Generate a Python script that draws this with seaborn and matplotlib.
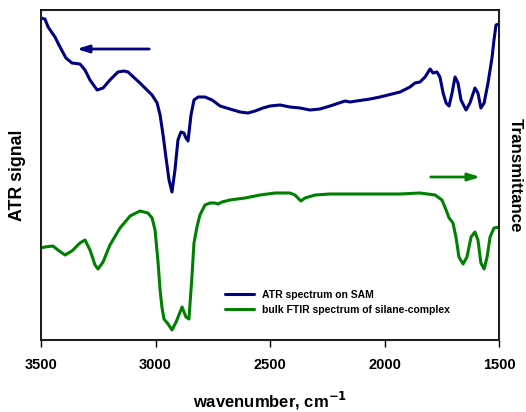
import matplotlib
matplotlib.use("Agg")
import matplotlib.pyplot as plt
import seaborn as sns
import pandas as pd

sns.set_style("white")
plt.rcParams['font.family'] = ['Liberation Sans', 'DejaVu Sans']
plt.rcParams['text.color'] = 'black'
plt.rcParams['axes.labelcolor'] = 'black'
plt.rcParams['xtick.color'] = 'black'
plt.rcParams['ytick.color'] = 'black'
plt.rcParams['lines.solid_joinstyle'] = 'round'
plt.rcParams['lines.solid_capstyle'] = 'round'

atr_wn = [3500, 3483, 3469, 3439, 3417, 3391, 3365, 3330, 3308, 3286, 3255, 3229, 3199, 3164, 3138, 3120,
          3068, 3015, 2993, 2980, 2967, 2954, 2941, 2928, 2915, 2902, 2889, 2876, 2867, 2858, 2845, 2832,
          2814, 2784, 2753, 2718, 2675, 2631, 2596, 2565, 2531, 2500, 2456, 2413, 2369, 2325, 2282, 2238,
          2172, 2151, 2063, 2020, 1932, 1889, 1867, 1845, 1823, 1801, 1788, 1771, 1758, 1744, 1731, 1718,
          1705, 1692, 1679, 1666, 1644, 1627, 1605, 1592, 1579, 1565, 1548, 1530, 1522, 1513, 1500]
atr_val = [322, 321, 313, 303, 293, 282, 277, 276, 270, 260, 250, 252, 260, 268, 269, 268,
           257, 245, 237, 225, 205, 182, 160, 148, 170, 200, 208, 207, 202, 199, 225, 240,
           243, 243, 240, 234, 231, 228, 227, 229, 232, 234, 235, 233, 232, 230, 231, 234,
           239, 238, 241, 243, 248, 253, 257, 258, 263, 271, 267, 268, 263, 247, 237, 234,
           247, 263, 257, 240, 230, 237, 252, 247, 232, 237, 257, 283, 300, 315, 316]

ftir_wn = [3500, 3483, 3448, 3426, 3395, 3365, 3330, 3308, 3286, 3264, 3251, 3229, 3199, 3155, 3111, 3068,
           3033, 3015, 3002, 2989, 2980, 2972, 2963, 2945, 2928, 2910, 2884, 2867, 2854, 2841, 2832, 2819,
           2806, 2784, 2762, 2740, 2727, 2710, 2675, 2609, 2544, 2478, 2413, 2391, 2365, 2347, 2303, 2238,
           2107, 1932, 1845, 1779, 1749, 1731, 1718, 1701, 1688, 1675, 1657, 1640, 1622, 1605, 1592, 1579,
           1565, 1552, 1539, 1522, 1500]
ftir_val = [92, 93, 94, 90, 85, 89, 97, 100, 90, 75, 71, 78, 95, 112, 124, 129,
            127, 122, 110, 78, 50, 33, 21, 16, 10, 18, 33, 23, 21, 63, 97, 113,
            125, 135, 137, 137, 136, 138, 140, 142, 145, 147, 147, 145, 139, 142, 145, 146,
            146, 146, 147, 145, 140, 130, 122, 117, 103, 83, 76, 83, 103, 108, 100, 77,
            71, 83, 103, 112, 113]

labels = ["ATR spectrum on SAM", "bulk FTIR spectrum of silane-complex"]
colors = ["#000080", "#008000"]
xticks = [3500, 3000, 2500, 2000, 1500]

df = pd.concat([
    pd.DataFrame({"wn": atr_wn, "val": atr_val, "series": labels[0]}),
    pd.DataFrame({"wn": ftir_wn, "val": ftir_val, "series": labels[1]}),
])

fig = plt.figure(figsize=(5.26, 4.12), dpi=100)
ax = fig.add_axes([41/526, 1 - 340/412, 458/526, 330/412])
sns.lineplot(data=df, x="wn", y="val", hue="series", palette=colors, estimator=None,
             sort=True, linewidth=2.2, ax=ax)

ax.set_xlim(3500, 1500)
ax.set_ylim(0, 330)
ax.set_xticks(xticks)
ax.set_xticklabels([str(t) for t in xticks], fontweight="bold", fontsize=10.5)
ax.set_yticks([])
ax.tick_params(axis="x", direction="out", length=5, width=1, bottom=True, pad=8, color="black")
for s in ax.spines.values():
    s.set_color("black")
    s.set_linewidth(1.3)

ax.set_xlabel("wavenumber, cm$^{\\mathbf{-1}}$", fontweight="bold", fontsize=12, labelpad=13)
ax.set_ylabel("ATR signal", fontweight="bold", fontsize=12.8, labelpad=11)
ax2 = ax.twinx()
ax2.set_yticks([])
ax2.set_ylabel("Transmittance", fontweight="bold", fontsize=12.2, rotation=270, labelpad=17)

ax.annotate("", xy=(3356, 291), xytext=(3015, 291),
            arrowprops=dict(arrowstyle="-|>,head_length=0.7,head_width=0.22", color=colors[0], lw=2))
ax.annotate("", xy=(1570, 163), xytext=(1810, 163),
            arrowprops=dict(arrowstyle="-|>,head_length=0.7,head_width=0.22", color=colors[1], lw=2))

leg = ax.legend(loc="lower left", bbox_to_anchor=(0.39, 0.06), frameon=False,
                fontsize=7.5, handlelength=2.8, handletextpad=0.8, labelspacing=0.5, borderpad=0)
for t in leg.get_texts():
    t.set_fontweight("bold")

fig.savefig("out.png", dpi=100)
